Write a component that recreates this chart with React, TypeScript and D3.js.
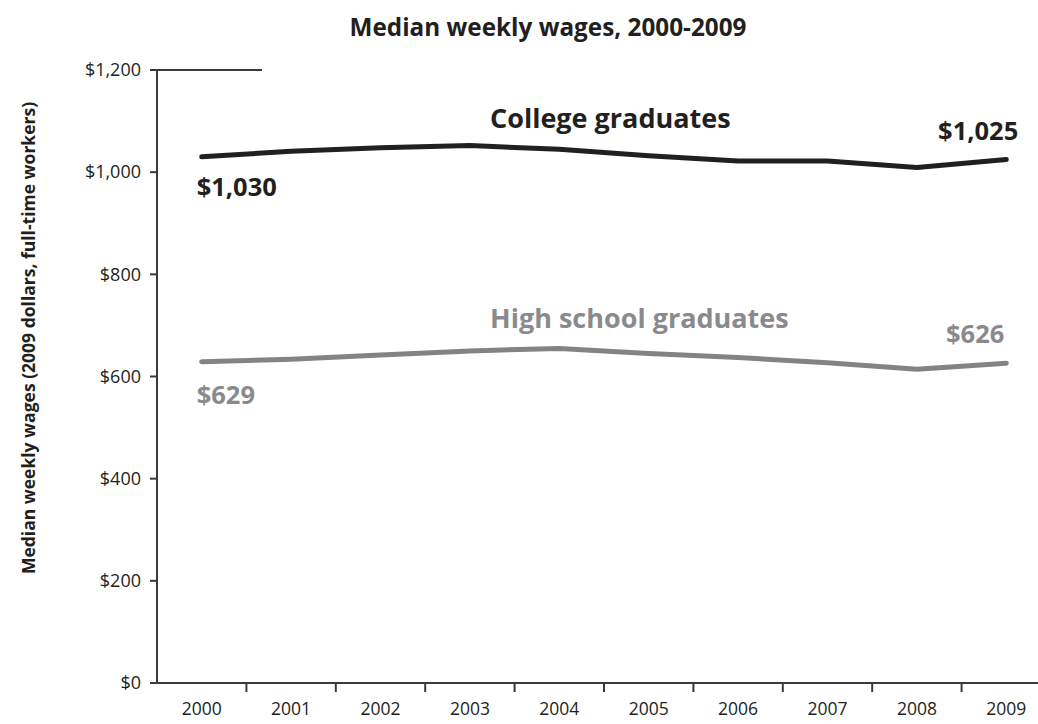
import React from "react";
import * as d3 from "d3";

const years = ["2000","2001","2002","2003","2004","2005","2006","2007","2008","2009"];
const college = [1030, 1041, 1048, 1052, 1045, 1032, 1022, 1022, 1009, 1025];
const highSchool = [629, 634, 642, 650, 655, 645, 637, 627, 614, 626];
const yTicks = [0, 200, 400, 600, 800, 1000, 1200];

const title = "Median weekly wages, 2000-2009";
const yTitle = "Median weekly wages (2009 dollars, full-time workers)";

const W = 1038, H = 724;
const FONT = "'Open Sans', 'Noto Sans', sans-serif";
const DARK = "#231f20";
const GRAY = "#838385";
const GRAY_TEXT = "#8a8a8c";

export default function App() {
  const x = d3.scaleBand<string>().domain(years).range([157, 157 + 10 * 89.4]).paddingInner(0).paddingOuter(0);
  const y = d3.scaleLinear().domain([0, 1200]).range([683, 70]);
  const cx = (d: string) => (x(d) as number) + x.bandwidth() / 2;
  const line = d3.line<number>().x((_, i) => cx(years[i])).y((v) => y(v));
  const fmt = (v: number) => "$" + d3.format(",")(v);

  return (
    <svg width={W} height={H} style={{ position: "absolute", left: 0, top: 0, background: "#fff" }}>
      <rect width={W} height={H} fill="#fff" />
      <text x={548} y={36} textAnchor="middle" fontFamily={FONT} fontWeight={700} fontSize={24.3} fill={DARK}>{title}</text>
      <text transform={`translate(35,${(100 + 576) / 2}) rotate(-90)`} textAnchor="middle" fontFamily={FONT} fontWeight={700} fontSize={17.5} fill={DARK}>{yTitle}</text>

      {/* axes */}
      <line x1={157} x2={157} y1={y(1200)} y2={y(0)} stroke="#3a3a3a" strokeWidth={2} />
      <line x1={157} x2={W} y1={y(0)} y2={y(0)} stroke="#3a3a3a" strokeWidth={2} />
      <line x1={157} x2={262} y1={y(1200)} y2={y(1200)} stroke="#3a3a3a" strokeWidth={2} />
      {yTicks.map((t) => (
        <g key={t}>
          <line x1={150} x2={157} y1={y(t)} y2={y(t)} stroke="#3a3a3a" strokeWidth={2} />
          <text x={141} y={y(t)} dy="0.35em" textAnchor="end" fontFamily={FONT} fontSize={18} fill={DARK}>{fmt(t)}</text>
        </g>
      ))}
      {years.map((yr, i) => (
        <g key={yr}>
          {i > 0 && <line x1={x(yr) as number} x2={x(yr) as number} y1={y(0)} y2={y(0) + 9} stroke="#3a3a3a" strokeWidth={2} />}
          <text x={cx(yr)} y={715} textAnchor="middle" fontFamily={FONT} fontSize={17.5} fill={DARK}>{yr}</text>
        </g>
      ))}

      {/* lines */}
      <path d={line(college) || ""} fill="none" stroke={DARK} strokeWidth={5} strokeLinejoin="round" strokeLinecap="round" />
      <path d={line(highSchool) || ""} fill="none" stroke={GRAY} strokeWidth={5} strokeLinejoin="round" strokeLinecap="round" />

      {/* labels */}
      <text x={490} y={128} fontFamily={FONT} fontWeight={700} fontSize={27} fill={DARK}>College graduates</text>
      <text x={cx("2000") - 5} y={196} fontFamily={FONT} fontWeight={700} fontSize={25.5} fill={DARK}>{fmt(college[0])}</text>
      <text x={cx("2009") + 12} y={140} textAnchor="end" fontFamily={FONT} fontWeight={700} fontSize={25.5} fill={DARK}>{fmt(college[9])}</text>
      <text x={490} y={328} fontFamily={FONT} fontWeight={700} fontSize={27} fill={GRAY_TEXT}>High school graduates</text>
      <text x={cx("2000") - 5} y={404} fontFamily={FONT} fontWeight={700} fontSize={25.5} fill={GRAY_TEXT}>{fmt(highSchool[0])}</text>
      <text x={cx("2009") - 2} y={343} textAnchor="end" fontFamily={FONT} fontWeight={700} fontSize={25.5} fill={GRAY_TEXT}>{fmt(highSchool[9])}</text>
    </svg>
  );
}
